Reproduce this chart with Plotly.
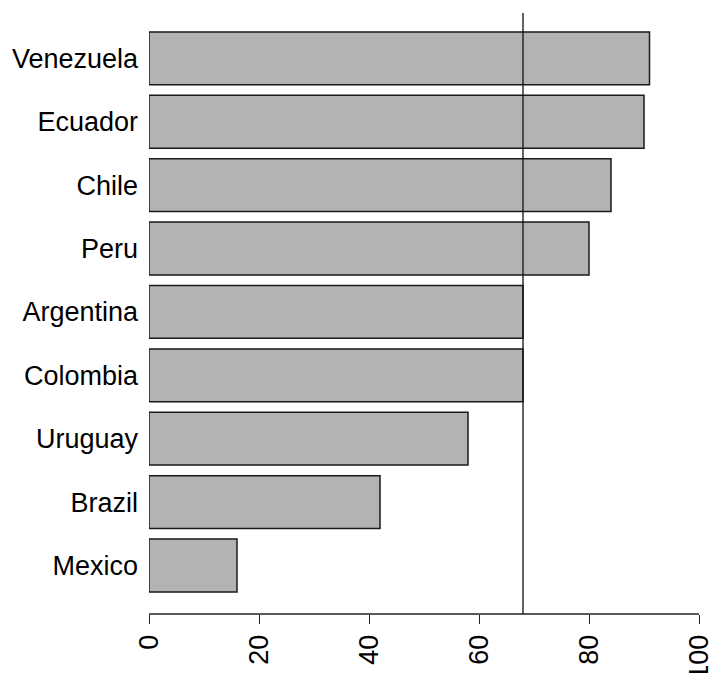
import plotly.graph_objects as go

# Countries listed bottom-to-top, with their values
countries = ["Mexico", "Brazil", "Uruguay", "Colombia", "Argentina",
             "Peru", "Chile", "Ecuador", "Venezuela"]
values = [16, 42, 58, 68, 68, 80, 84, 90, 91]
reference_value = 68
x_ticks = [0, 20, 40, 60, 80, 100]

positions = list(range(len(countries)))
font_family = "Liberation Sans, Arial, sans-serif"

fig = go.Figure(
    go.Bar(
        x=values,
        y=positions,
        orientation="h",
        width=0.833,
        marker=dict(color="#b3b3b3", line=dict(color="#1a1a1a", width=1.5)),
        cliponaxis=False,
        hoverinfo="skip",
    )
)

# bottom axis line spanning the tick range only
fig.add_shape(type="line", xref="x", yref="paper",
              x0=x_ticks[0], x1=x_ticks[-1], y0=0, y1=0,
              line=dict(color="#222", width=1.3))

# vertical reference line
fig.add_shape(type="line", xref="x", yref="paper",
              x0=reference_value, x1=reference_value, y0=0, y1=1,
              line=dict(color="#111", width=1.3))

fig.update_layout(
    width=711, height=673,
    margin=dict(l=149, r=12, t=13, b=59, autoexpand=False),
    plot_bgcolor="white", paper_bgcolor="white",
    showlegend=False,
    font=dict(family=font_family, size=27, color="black"),
    xaxis=dict(
        range=[0, 100], showgrid=False, zeroline=False, showline=False,
        tickmode="array", tickvals=x_ticks, ticktext=[str(t) for t in x_ticks],
        ticks="outside", ticklen=9, tickwidth=1.3, tickcolor="#222",
        tickangle=-90, tickfont=dict(size=27, family=font_family),
        ticklabeloverflow="allow", automargin=False,
    ),
    yaxis=dict(
        range=[-0.765, 8.715], showgrid=False, zeroline=False, showline=False,
        tickmode="array", tickvals=positions, ticktext=countries,
        ticks="", ticklabelstandoff=10, automargin=False,
        tickfont=dict(size=27, family=font_family),
    ),
)

fig.write_html("out.html")
